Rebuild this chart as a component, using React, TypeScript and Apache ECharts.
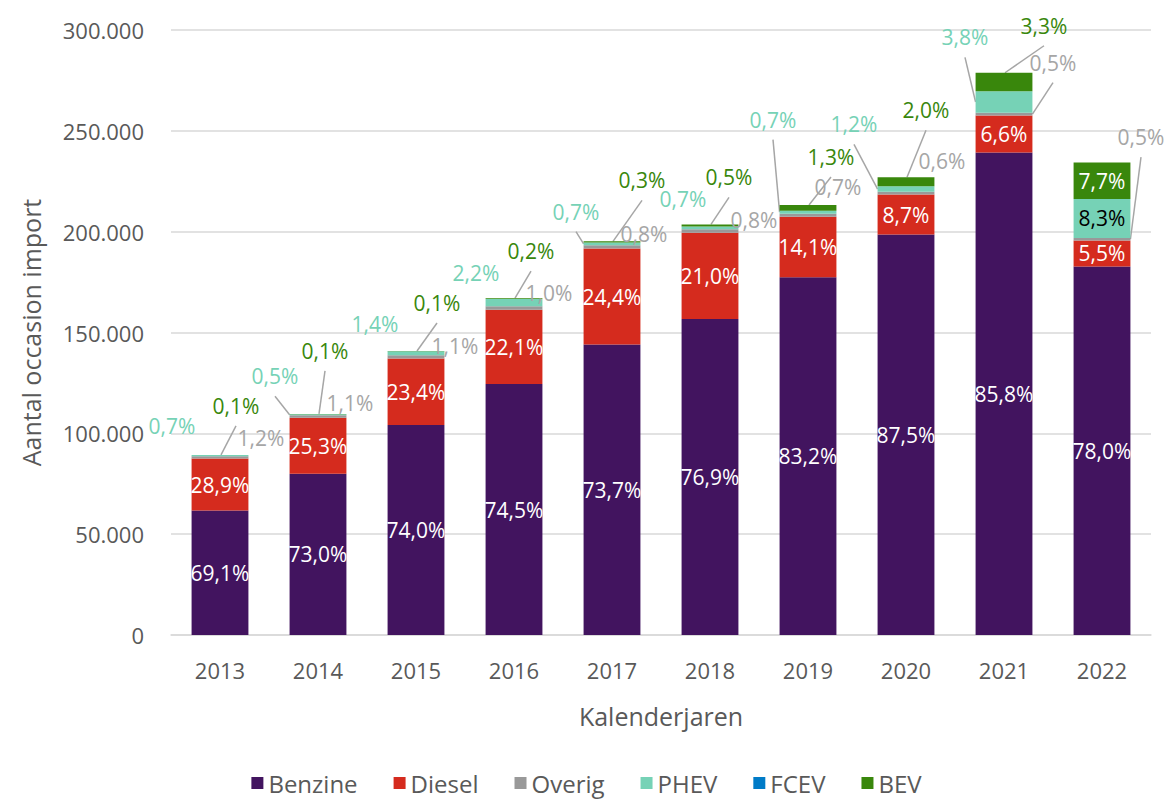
import React, { useEffect, useRef } from 'react';
import * as echarts from 'echarts';

const years = ['2013', '2014', '2015', '2016', '2017', '2018', '2019', '2020', '2021', '2022'];
const totals = [89300, 109600, 140800, 167000, 195400, 203800, 213200, 227000, 278800, 234300];
const benzine = [69.1, 73.0, 74.0, 74.5, 73.7, 76.9, 83.2, 87.5, 85.8, 78.0];
const diesel = [28.9, 25.3, 23.4, 22.1, 24.4, 21.0, 14.1, 8.7, 6.6, 5.5];
const overig = [1.2, 1.1, 1.1, 1.0, 0.8, 0.8, 0.7, 0.6, 0.5, 0.5];
const phev = [0.7, 0.5, 1.4, 2.2, 0.7, 0.7, 0.7, 1.2, 3.8, 8.3];
const fcev = [0, 0, 0, 0, 0, 0, 0, 0, 0, 0];
const bev = [0.1, 0.1, 0.1, 0.2, 0.3, 0.5, 1.3, 2.0, 3.3, 7.7];
const yTicks = [0, 50000, 100000, 150000, 200000, 250000, 300000];

// label placement (offset from segment top-centre), null = inside label
const overigOffsets: ([number, number] | null)[] = [[41, -18], [32, -12], [39, -9], [35, -13], [32, -11], [44, -9], [30, -27], [36, -31], [49, -50], [39, -101]];
const phevOffsets: ([number, number] | null)[] = [[-48, -29], [-43, -38], [-41, -27], [-38, -26], [-36, -31], [-27, -27], [-35, -91], [-52, -62], [-39, -54], null];
const bevOffsets: ([number, number] | null)[] = [[16, -49], [7, -63], [21, -48], [17, -47], [30, -61], [19, -47], [23, -48], [20, -67], [40, -47], null];
const overigLines = [false, false, false, false, false, false, false, false, true, true];
const phevLines = [false, true, false, false, true, false, true, true, true, false];
const bevLines = [true, true, true, true, true, true, true, true, true, false];

const FONT = 'Open Sans';
const BAR_GAP = 0.42;
const fmtPct = (v: number) => v.toFixed(1).replace('.', ',') + '%';
const fmtNum = (v: number) => String(v).replace(/\B(?=(\d{3})+(?!\d))/g, '.');

type Anchor = 'left' | 'right' | 'top';

export default function App() {
  const ref = useRef<HTMLDivElement>(null);
  useEffect(() => {
    if (!ref.current) return;
    const chart = echarts.init(ref.current, undefined, { renderer: 'svg' });

    const seg = (shares: number[]) => shares.map((s, i) => (totals[i] * s) / 100);
    const vB = seg(benzine);
    const vD = seg(diesel);
    const vO = seg(overig);
    const vP = seg(phev);
    const vF = seg(fcev);
    const vE = seg(bev);

    // leader line items: [category, segment top, segment bottom]
    const leaders: { value: number[]; anchor: Anchor; off: [number, number] }[] = [];
    years.forEach((_, i) => {
      const bd = vB[i] + vD[i];
      const o = bd + vO[i];
      const p = o + vP[i];
      const f = p + vF[i];
      const e = f + vE[i];
      if (overigLines[i] && overigOffsets[i]) leaders.push({ value: [i, o, bd], anchor: 'right', off: overigOffsets[i] as [number, number] });
      if (phevLines[i] && phevOffsets[i]) leaders.push({ value: [i, p, o], anchor: 'left', off: phevOffsets[i] as [number, number] });
      if (bevLines[i] && bevOffsets[i]) leaders.push({ value: [i, e, f], anchor: 'top', off: bevOffsets[i] as [number, number] });
    });

    const makeInside = (name: string, shares: number[], values: number[], color: string) => ({
      name,
      type: 'bar',
      stack: 'total',
      barCategoryGap: BAR_GAP * 100 + '%',
      itemStyle: { color },
      label: {
        show: true,
        position: 'inside',
        color: '#ffffff',
        fontSize: 21,
        fontFamily: FONT,
        formatter: (p: any) => fmtPct(shares[p.dataIndex]),
      },
      data: values,
    });

    const makeOutside = (
      name: string,
      shares: number[],
      values: number[],
      color: string,
      labelColor: string,
      offsets: ([number, number] | null)[],
      insideColor: string
    ) => ({
      name,
      type: 'bar',
      stack: 'total',
      barCategoryGap: BAR_GAP * 100 + '%',
      itemStyle: { color },
      label: {
        show: true,
        position: 'top',
        color: labelColor,
        fontSize: 21,
        fontFamily: FONT,
        formatter: (p: any) => fmtPct(shares[p.dataIndex]),
      },
      labelLayout: (p: any) => {
        const o = offsets[p.dataIndex];
        if (!o) return {};
        const r = p.rect;
        return {
          x: r.x + r.width / 2 + o[0],
          y: r.y + o[1],
          align: 'center',
          verticalAlign: 'middle',
        };
      },
      data: values.map((v, i) => {
        const item: any = { value: v };
        if (!offsets[i]) item.label = { position: 'inside', color: insideColor };
        return item;
      }),
    });

    const option: any = {
      animation: false,
      textStyle: { fontFamily: FONT },
      grid: { left: 171, right: 22, top: 30, bottom: 165 },
      legend: {
        bottom: 0,
        left: 'center',
        icon: 'rect',
        itemWidth: 12,
        itemHeight: 12,
        itemGap: 36,
        textStyle: { fontSize: 24, color: '#595959', fontFamily: FONT },
        data: ['Benzine', 'Diesel', 'Overig', 'PHEV', 'FCEV', 'BEV'],
      },
      xAxis: {
        type: 'category',
        data: years,
        name: 'Kalenderjaren',
        nameLocation: 'middle',
        nameGap: 68,
        nameTextStyle: { fontSize: 25, color: '#595959', fontFamily: FONT },
        axisLine: { lineStyle: { color: '#d9d9d9', width: 1.5 } },
        axisTick: { show: false },
        axisLabel: { fontSize: 22, color: '#595959', margin: 24, fontFamily: FONT },
      },
      yAxis: {
        type: 'value',
        min: yTicks[0],
        max: yTicks[yTicks.length - 1],
        interval: yTicks[1] - yTicks[0],
        name: 'Aantal occasion import',
        nameLocation: 'middle',
        nameGap: 128,
        nameTextStyle: { fontSize: 25, color: '#595959', fontFamily: FONT },
        axisLine: { show: false },
        axisTick: { show: false },
        splitLine: { lineStyle: { color: '#d9d9d9', width: 1.5 } },
        axisLabel: {
          fontSize: 22,
          color: '#595959',
          margin: 27,
          fontFamily: FONT,
          formatter: (v: number) => fmtNum(v),
        },
      },
      series: [
        makeInside('Benzine', benzine, vB, '#42145f'),
        makeInside('Diesel', diesel, vD, '#d52b1e'),
        makeOutside('Overig', overig, vO, '#999999', '#a6a6a6', overigOffsets, '#ffffff'),
        makeOutside('PHEV', phev, vP, '#76d2b6', '#76d2b6', phevOffsets, '#000000'),
        {
          name: 'FCEV',
          type: 'bar',
          stack: 'total',
          barCategoryGap: BAR_GAP * 100 + '%',
          itemStyle: { color: '#007bc7' },
          data: vF,
        },
        makeOutside('BEV', bev, vE, '#39870c', '#39870c', bevOffsets, '#ffffff'),
        {
          name: 'leaders',
          type: 'custom',
          silent: true,
          z: 1,
          encode: { x: 0, y: 1 },
          data: leaders.map((l) => l.value),
          renderItem: (params: any, api: any) => {
            const l = leaders[params.dataIndex];
            const ci = api.value(0);
            const pTop = api.coord([ci, api.value(1)]);
            const pBot = api.coord([ci, api.value(2)]);
            const bw = api.size([1, 0])[0] * (1 - BAR_GAP);
            const cx = pTop[0];
            let sx = cx + 1;
            let sy = pTop[1];
            if (l.anchor === 'left') {
              sx = cx - bw / 2;
              sy = (pTop[1] + pBot[1]) / 2;
            } else if (l.anchor === 'right') {
              sx = cx + bw / 2;
              sy = (pTop[1] + pBot[1]) / 2;
            }
            const ex = cx + l.off[0];
            const ey = pTop[1] + l.off[1] + 20;
            return {
              type: 'line',
              shape: { x1: sx, y1: sy, x2: ex, y2: ey },
              style: { stroke: '#a6a6a6', lineWidth: 1.5 },
            };
          },
        },
      ],
    };
    chart.setOption(option);
    return () => chart.dispose();
  }, []);
  return (
    <div
      ref={ref}
      style={{ position: 'fixed', left: 0, top: 0, width: 1173, height: 800, background: '#ffffff' }}
    />
  );
}
